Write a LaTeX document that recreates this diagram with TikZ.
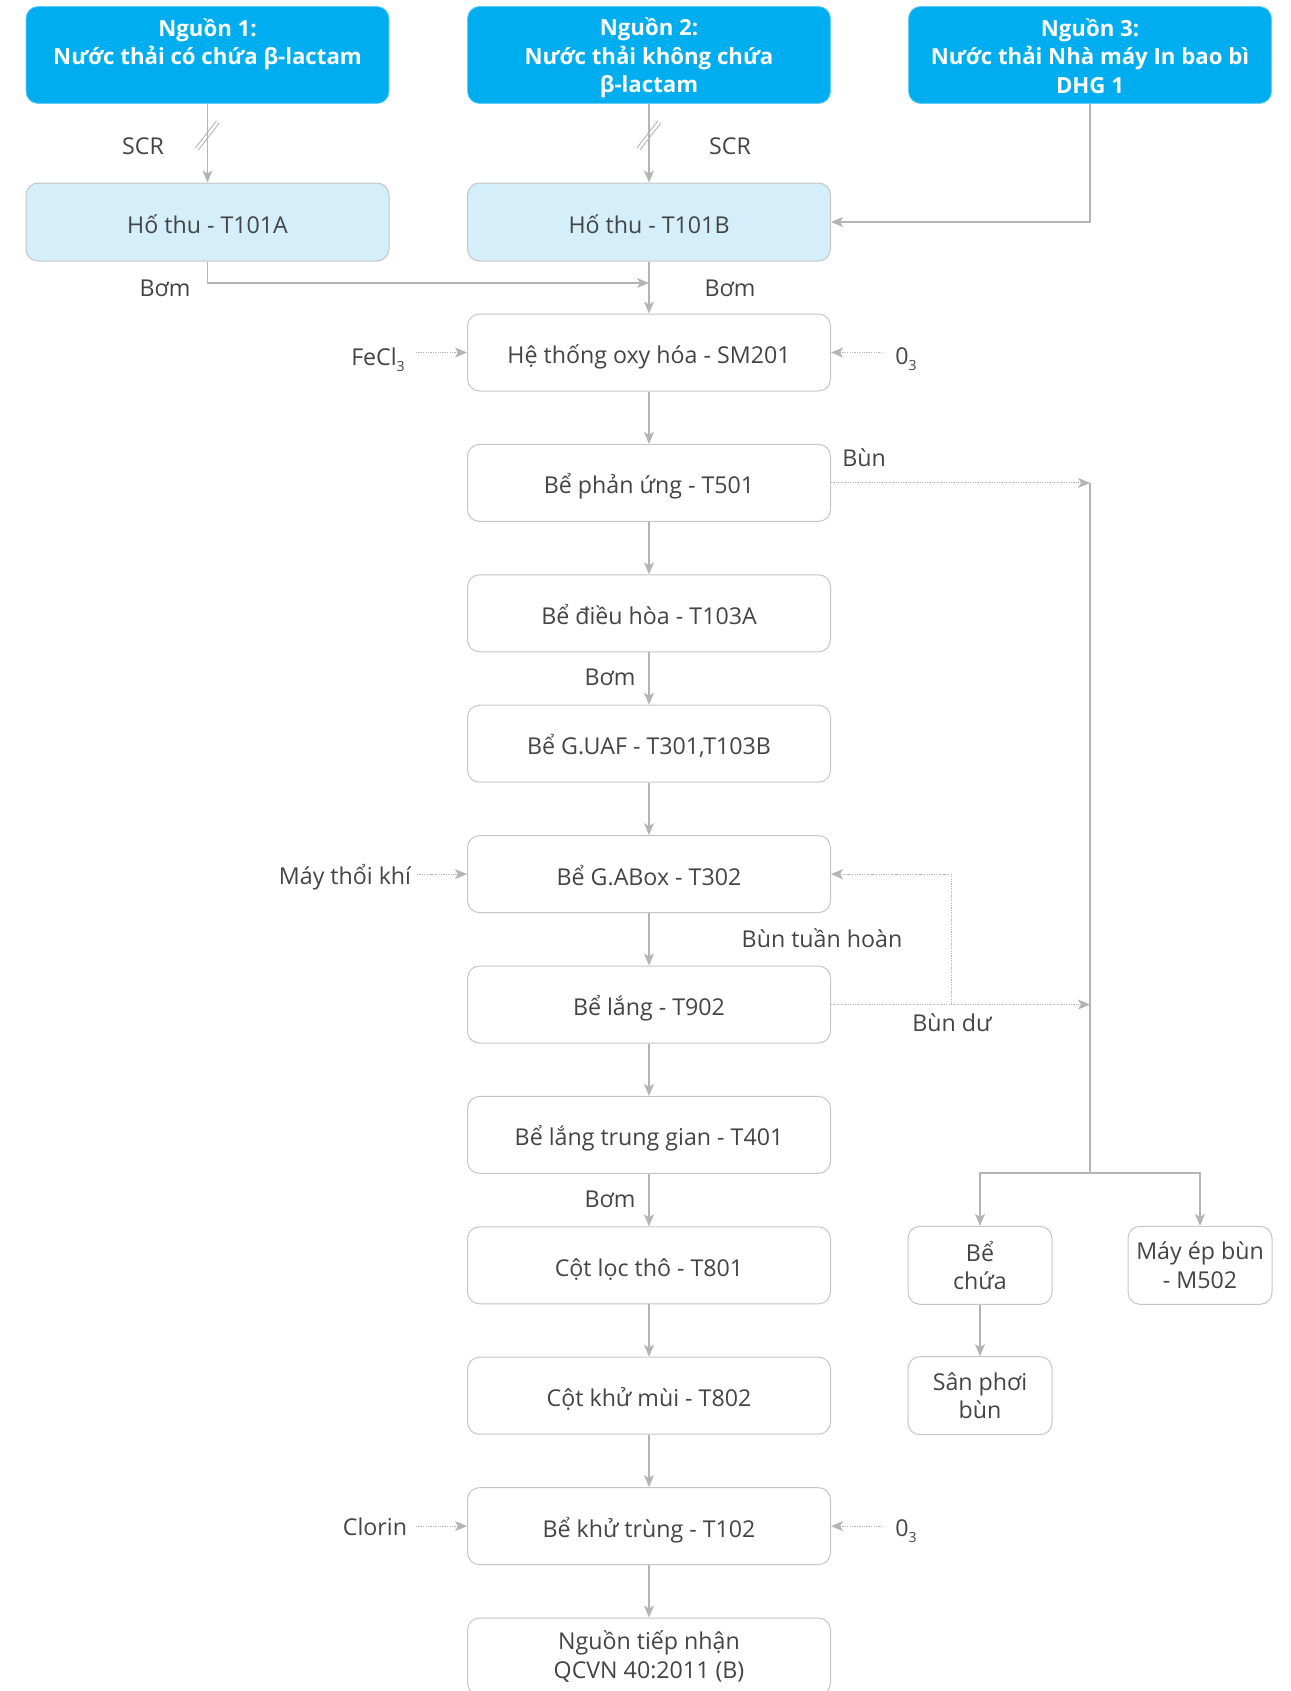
\documentclass[tikz,border=0pt]{standalone}
\usepackage{fontspec}
\setmainfont{Open Sans}
\usetikzlibrary{arrows.meta}
\definecolor{cyanH}{HTML}{00AEEF}
\definecolor{lblue}{HTML}{D4EEFA}
\definecolor{bord}{HTML}{C6C6C6}
\definecolor{lin}{HTML}{B4B4B4}
\definecolor{txt}{HTML}{444444}
\newcommand{\subthree}{\raisebox{-0.5ex}{\fontsize{7}{8}\selectfont 3}}
\tikzset{
 basebox/.style={rounded corners=6pt, minimum width=181.5pt, inner sep=0pt, align=center,
   font=\fontsize{11.6}{14.2}\selectfont, text=txt},
 oneline/.style={text height=11.5pt, text depth=0.5pt},
 srcbox/.style={basebox, fill=cyanH, draw=cyanH!60!white, line width=0.4pt, minimum height=48.5pt},
 srctext/.style={inner sep=0pt, align=center, text=white, font=\bfseries\fontsize{11.1}{14.3}\selectfont},
 hobox/.style={basebox, oneline, fill=lblue, draw=bord, line width=0.5pt, minimum height=39pt},
 procbox/.style={basebox, fill=white, draw=bord, line width=0.5pt, minimum height=38.5pt},
 smallbox/.style={procbox, minimum width=72pt, minimum height=39pt},
 lbl/.style={font=\fontsize{11.6}{14}\selectfont, text=txt, inner sep=0pt},
 conn/.style={draw=lin, line width=0.7pt},
 arr/.style={conn, -{Stealth[length=6pt,width=5pt,inset=1.5pt]}},
 dotarr/.style={draw=lin, line width=0.45pt, dash pattern=on 0.6pt off 0.6pt,
   -{Stealth[length=6pt,width=5pt,inset=1.5pt]}},
 slash/.style={draw=lin, line width=0.45pt},
}
\begin{document}
\begin{tikzpicture}[x=0.5pt,y=-0.5pt]
\useasboundingbox (0,0) rectangle (1290,1691);
\clip (0,0) rectangle (1290,1691);

% sources
\node[srcbox] (src1) at (207.5,55) {};
\node[srctext] (src1t) at (207.5,44) {Nguồn 1:\\Nước thải có chứa β-lactam};
\node[srcbox] (src2) at (649,55) {};
\node[srctext] (src2t) at (649,58) {Nguồn 2:\\Nước thải không chứa\\β-lactam};
\node[srcbox] (src3) at (1090,55) {};
\node[srctext] (src3t) at (1090,56) {Nguồn 3:\\Nước thải Nhà máy In bao bì\\DHG 1};

% collection pits
\node[hobox] (hA) at (207.5,222) {Hố thu - T101A};
\node[hobox] (hB) at (649,222) {Hố thu - T101B};

% main column
\node[procbox,oneline] (sm)    at (649,352.5)  {Hệ thống oxy hóa - SM201};
\node[procbox,oneline] (r501)  at (649,482.9)  {Bể phản ứng - T501};
\node[procbox,oneline] (t103a) at (649,613.3)  {Bể điều hòa - T103A};
\node[procbox,oneline] (guaf)  at (649,743.7)  {Bể G.UAF - T301,T103B};
\node[procbox,oneline] (gabox) at (649,874.1)  {Bể G.ABox - T302};
\node[procbox,oneline] (t902)  at (649,1004.5) {Bể lắng - T902};
\node[procbox,oneline] (t401)  at (649,1134.9) {Bể lắng trung gian - T401};
\node[procbox,oneline] (t801)  at (649,1265.3) {Cột lọc thô - T801};
\node[procbox,oneline] (t802)  at (649,1395.7) {Cột khử mùi - T802};
\node[procbox,oneline] (t102)  at (649,1526.1) {Bể khử trùng - T102};
\node[procbox] (fin)   at (649,1656.5) {Nguồn tiếp nhận\\QCVN 40:2011 (B)};

% sludge boxes
\node[smallbox] (bc)  at (980,1265.3)  {Bể\\chứa};
\node[smallbox] (mep) at (1200,1265.3) {Máy ép bùn\\- M502};
\node[smallbox] (sp)  at (980,1395.7)  {Sân phơi\\bùn};

% labels
\node[lbl] (scr1) at (143,146) {SCR};
\node[lbl] (scr2) at (730,146) {SCR};
\node[lbl] (bom1) at (165,288) {Bơm};
\node[lbl] (bom2) at (730,288) {Bơm};
\node[lbl] (bun)  at (864,458) {Bùn};
\node[lbl] (bom3) at (610,677) {Bơm};
\node[lbl] (bom4) at (610,1199) {Bơm};
\node[lbl] (buntc) at (822,938) {Bùn tuần hoàn};
\node[lbl] (bundu) at (952,1023) {Bùn dư};
\node[lbl] (fecl) at (378,360) {FeCl\subthree};
\node[lbl] (oz1) at (906,359) {0\subthree};
\node[lbl] (mtk) at (345,877) {Máy thổi khí};
\node[lbl] (clo) at (375,1527) {Clorin};
\node[lbl] (oz2) at (906,1531) {0\subthree};

% coordinates
\coordinate (j1) at (649,283);
\coordinate (fe) at (416,352.5);
\coordinate (o1) at (882,352.5);
\coordinate (v1) at (1090,482.9);
\coordinate (v2) at (1090,1004.5);
\coordinate (rc) at (951,1004.5);
\coordinate (split) at (1090,1173);
\coordinate (mk) at (417,874.1);
\coordinate (cl) at (416,1526.1);
\coordinate (o2) at (882,1526.1);

% source connectors
\draw[arr] (src1.south) -- (hA.north) coordinate[pos=0.38] (s1m);
\draw[slash] ([shift={(-12,14)}]s1m) -- ([shift={(9,-13)}]s1m);
\draw[slash] ([shift={(-9,16)}]s1m) -- ([shift={(12,-11)}]s1m);
\draw[arr] (src2.south) -- (hB.north) coordinate[pos=0.38] (s2m);
\draw[slash] ([shift={(-12,14)}]s2m) -- ([shift={(9,-13)}]s2m);
\draw[slash] ([shift={(-9,16)}]s2m) -- ([shift={(12,-11)}]s2m);
\draw[arr] (src3.south) |- (hB.east);
\draw[arr] (hA.south) |- (j1);
\draw[arr] (hB.south) -- (sm.north);

% main chain
\draw[arr] (sm) -- (r501);
\draw[arr] (r501) -- (t103a);
\draw[arr] (t103a) -- (guaf);
\draw[arr] (guaf) -- (gabox);
\draw[arr] (gabox) -- (t902);
\draw[arr] (t902) -- (t401);
\draw[arr] (t401) -- (t801);
\draw[arr] (t801) -- (t802);
\draw[arr] (t802) -- (t102);
\draw[arr] (t102) -- (fin);

% chemicals
\draw[dotarr] (fe) -- (sm.west);
\draw[dotarr] (o1) -- (sm.east);
\draw[dotarr] (mk) -- (gabox.west);
\draw[dotarr] (cl) -- (t102.west);
\draw[dotarr] (o2) -- (t102.east);

% sludge
\draw[dotarr] (r501.east) -- (v1);
\draw[dotarr] (t902.east) -- (v2);
\draw[dotarr] (rc) |- (gabox.east);
\draw[conn] (v1) -- (split);
\draw[arr] (split) -| (bc.north);
\draw[arr] (split) -| (mep.north);
\draw[arr] (bc) -- (sp);
\end{tikzpicture}
\end{document}
